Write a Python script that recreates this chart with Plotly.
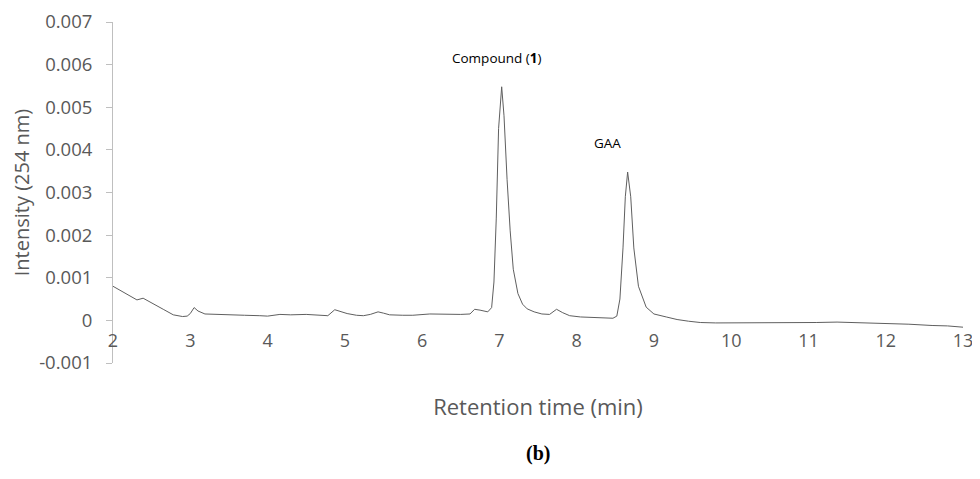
import plotly.graph_objects as go

# Retention time (min)
time_min = [2.0, 2.1, 2.22, 2.31, 2.39, 2.52, 2.65, 2.78, 2.9, 2.96, 3.0, 3.05, 3.1, 3.19, 3.3, 3.5,
            3.7, 3.9, 4.0, 4.16, 4.3, 4.5, 4.65, 4.78, 4.87, 4.95, 5.03, 5.15, 5.24, 5.33, 5.43, 5.5,
            5.58, 5.75, 5.88, 6.1, 6.3, 6.5, 6.62, 6.68, 6.75, 6.85, 6.9, 6.93, 6.96, 6.99, 7.03,
            7.06, 7.1, 7.14, 7.18, 7.24, 7.3, 7.36, 7.45, 7.55, 7.65, 7.74, 7.82, 7.91, 8.05, 8.2,
            8.35, 8.47, 8.52, 8.56, 8.6, 8.63, 8.66, 8.7, 8.74, 8.8, 8.9, 9.0, 9.16, 9.3, 9.45, 9.6,
            9.8, 10.0, 10.24, 10.5, 10.8, 11.1, 11.37, 11.6, 11.96, 12.3, 12.6, 12.8, 13.0]

# Intensity at 254 nm
intensity = [0.00080, 0.00070, 0.00059, 0.00048, 0.00052, 0.00040, 0.00026, 0.00013, 0.00009,
             0.00010, 0.00016, 0.00030, 0.00022, 0.00015, 0.00014, 0.00013, 0.00012, 0.00011,
             0.00010, 0.00014, 0.00013, 0.00014, 0.00013, 0.00011, 0.00025, 0.00021, 0.00016,
             0.00012, 0.00011, 0.00014, 0.00020, 0.00017, 0.00013, 0.00012, 0.00012, 0.00015,
             0.00014, 0.00014, 0.00015, 0.00026, 0.00024, 0.00020, 0.00030, 0.00090, 0.00240,
             0.00450, 0.00548, 0.00480, 0.00330, 0.00210, 0.00120, 0.00063, 0.00038, 0.00027,
             0.00020, 0.00015, 0.00014, 0.00026, 0.00018, 0.00011, 0.00008, 0.00007, 0.00006,
             0.00005, 0.00010, 0.00050, 0.00170, 0.00290, 0.00348, 0.00290, 0.00170, 0.00080,
             0.00031, 0.00015, 0.00008, 0.00002, -0.00002, -0.00005, -0.00006, -0.00006, -0.00006,
             -0.00006, -0.00005, -0.00005, -0.00004, -0.00005, -0.00008, -0.00009, -0.00012,
             -0.00013, -0.00016]

x_ticks = [2, 3, 4, 5, 6, 7, 8, 9, 10, 11, 12, 13]
y_ticks = [-0.001, 0, 0.001, 0.002, 0.003, 0.004, 0.005, 0.006, 0.007]
y_tick_labels = ["-0.001", "0", "0.001", "0.002", "0.003", "0.004", "0.005", "0.006", "0.007"]

peak_labels = ["Compound (<b>1</b>)", "GAA"]
peak_label_x = [6.97, 8.40]
peak_label_y = [0.00615, 0.00415]

FONT = "Open Sans"
GRAY = "#595959"

fig = go.Figure()
fig.add_trace(go.Scatter(x=time_min, y=intensity, mode="lines",
                         line=dict(color="#5f5f5f", width=1), showlegend=False,
                         hoverinfo="x+y"))

for txt, px, py in zip(peak_labels, peak_label_x, peak_label_y):
    fig.add_annotation(x=px, y=py, xref="x", yref="y", text=txt, showarrow=False,
                       font=dict(family=FONT, size=13.5, color="#000000"))

fig.add_annotation(x=0.5, y=-0.264, xref="paper", yref="paper", text="<b>(b)</b>",
                   showarrow=False, yanchor="middle",
                   font=dict(family="Liberation Serif", size=20, color="#000000"))

# the page body has an 8 px margin, so the figure is 8 px smaller and margins shifted
fig.update_layout(
    width=972, height=471,
    margin=dict(l=105, r=17, t=14, b=116),
    paper_bgcolor="white", plot_bgcolor="white",
    font=dict(family=FONT, color=GRAY),
    xaxis=dict(range=[2, 13], tickvals=x_ticks, ticktext=[str(v) for v in x_ticks],
               showgrid=False, zeroline=False, showline=False, ticks="",
               anchor="free", position=0.125, automargin=False,
               ticklabelstandoff=8,
               tickfont=dict(family=FONT, size=18, color=GRAY),
               title=dict(text="Retention time (min)", font=dict(family=FONT, size=22, color=GRAY),
                          standoff=48)),
    yaxis=dict(range=[-0.001, 0.007], tickvals=y_ticks, ticktext=y_tick_labels,
               showgrid=False, zeroline=False, showline=True, linecolor="#bfbfbf", linewidth=1,
               ticks="outside", ticklen=6, tickcolor="#bfbfbf", automargin=False,
               ticklabelstandoff=10,
               tickfont=dict(family=FONT, size=18.5, color=GRAY),
               title=dict(text="Intensity (254 nm)", font=dict(family=FONT, size=20, color=GRAY),
                          standoff=4)),
)

fig.write_html("out.html")
